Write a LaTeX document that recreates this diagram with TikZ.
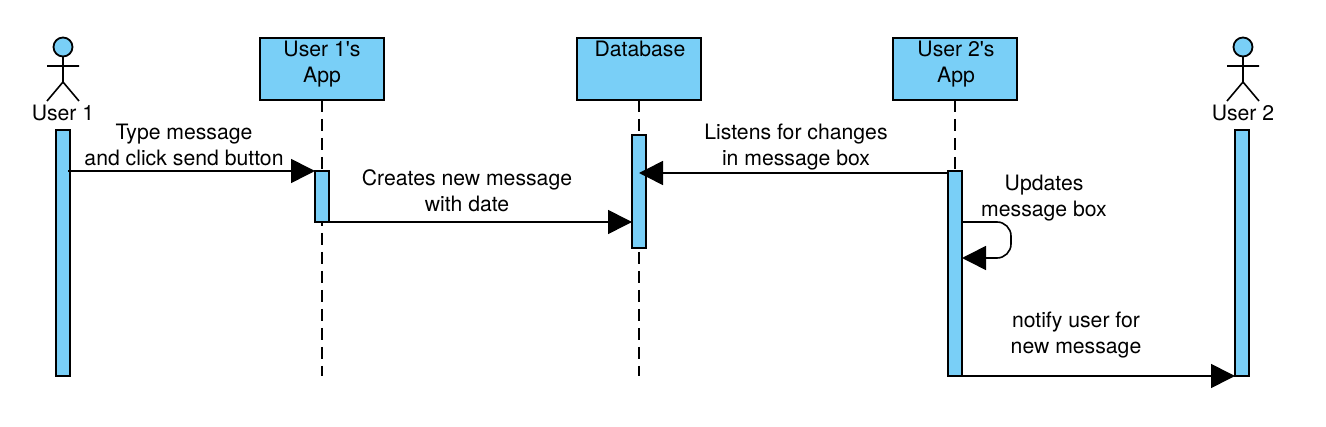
\documentclass[tikz,border=0pt]{standalone}
\usepackage{fontspec}
\setmainfont[Ligatures=TeXOff]{TeX Gyre Heros}
\usetikzlibrary{arrows.meta}
\definecolor{fillblue}{HTML}{79CFF7}
\tikzset{
  x=1pt,y=-1pt,
  every node/.style={inner sep=0pt,outer sep=0pt},
  box/.style={draw=black,line width=1.8pt,fill=fillblue,minimum width=124pt,minimum height=62pt,anchor=north west},
  boxtext/.style={font=\fontsize{21.2}{26}\selectfont,align=center,anchor=base},
  bar/.style={draw=black,line width=1.8pt,fill=fillblue,minimum width=14pt,anchor=north west},
  lifeline/.style={line width=1.6pt,dash pattern=on 12pt off 7pt},
  msg/.style={line width=1.6pt,-{Triangle[length=24pt,width=24pt]}},
  lbl/.style={font=\fontsize{21.2}{26}\selectfont,align=center,anchor=base},
  stick/.style={line width=1.6pt},
  head/.style={circle,draw=black,line width=1.8pt,fill=fillblue,minimum size=19pt},
}
\begin{document}
\begin{tikzpicture}
\useasboundingbox (0,0) rectangle (1326,427);
\fill[white] (0,0) rectangle (1326,427);
% lifelines end points
\coordinate (endA) at (322,376);
\coordinate (endB) at (639,376);
\coordinate (endC) at (955,376);
% lifeline boxes
\node[box] (appA) at (260,38) {};
\node[box] (db) at (577,38) {};
\node[box] (appB) at (893,38) {};
\draw[lifeline] (appA.south) -- (endA);
\draw[lifeline] (db.south) -- (endB);
\draw[lifeline] (appB.south) -- (endC);
\node[boxtext] at (322,56.5) {User 1's};
\node[boxtext] at (322,82.5) {App};
\node[boxtext] at (640,56.5) {Database};
\node[boxtext] at (956,56.5) {User 2's};
\node[boxtext] at (956,82.5) {App};
% activation bars
\node[bar,minimum height=246pt] (barU1) at (56,130) {};
\node[bar,minimum height=51pt] (barA) at (315,171) {};
\node[bar,minimum height=113pt] (barD) at (632,135) {};
\node[bar,minimum height=205pt] (barB) at (948,171) {};
\node[bar,minimum height=246pt] (barU2) at (1235,130) {};
% actors
\node[head] (headA) at (63,47) {};
\coordinate (hipA) at (63,82);
\coordinate (armAl) at (47,66);
\coordinate (armAr) at (79,66);
\coordinate (legAl) at (47,101);
\coordinate (legAr) at (79,101);
\draw[stick] (headA.south) -- (hipA) (armAl) -- (armAr) (legAl) -- (hipA) -- (legAr);
\node[head] (headB) at (1243,47) {};
\coordinate (hipB) at (1243,82);
\coordinate (armBl) at (1227,66);
\coordinate (armBr) at (1259,66);
\coordinate (legBl) at (1227,101);
\coordinate (legBr) at (1259,101);
\draw[stick] (headB.south) -- (hipB) (armBl) -- (armBr) (legBl) -- (hipB) -- (legBr);
\node[lbl] at (63,120.5) {User 1};
\node[lbl] at (1243,120.5) {User 2};
% messages
\coordinate (m1s) at (68,171);
\coordinate (m2s) at (322,222);
\coordinate (m3e) at (639,173);
\coordinate (m3s) at (948,173);
\coordinate (m4s) at (961,222);
\coordinate (m4a) at (1011,222);
\coordinate (m4b) at (1011,258);
\coordinate (m4e) at (962,258);
\coordinate (m5s) at (962,376);
\draw[msg] (m1s) -- (barA.north west);
\draw[msg] (m2s) -- (barD.west |- m2s);
\draw[msg] (m3s) -- (m3e);
\draw[msg,rounded corners=14pt] (m4s) -- (m4a) -- (m4b) -- (m4e);
\draw[msg] (m5s) -- (barU2.south west);
% labels
\node[lbl] at (184,140) {Type message};
\node[lbl] at (184,166) {and click send button};
\node[lbl] at (467,185.5) {Creates new message};
\node[lbl] at (467,211.5) {with date};
\node[lbl] at (796,140) {Listens for changes};
\node[lbl] at (796,166) {in message box};
\node[lbl] at (1044,191) {Updates};
\node[lbl] at (1044,217) {message box};
\node[lbl] at (1076,327.5) {notify user for};
\node[lbl] at (1076,353.5) {new message};
\end{tikzpicture}
\end{document}
